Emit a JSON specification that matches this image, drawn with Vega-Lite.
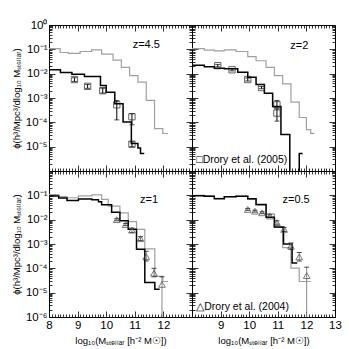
{
"$schema":"https://vega.github.io/schema/vega-lite/v6.json",
"padding":{"left":11,"top":19,"right":5,"bottom":3},
"datasets":{
"lines":[
{"p":"TL","s":"g","m":8.0,"phi":0.107},{"p":"TL","s":"g","m":8.39,"phi":0.0741},{"p":"TL","s":"g","m":8.68,"phi":0.0676},{"p":"TL","s":"g","m":9.09,"phi":0.0813},{"p":"TL","s":"g","m":9.49,"phi":0.0955},{"p":"TL","s":"g","m":9.84,"phi":0.0631},{"p":"TL","s":"g","m":10.24,"phi":0.0363},{"p":"TL","s":"g","m":10.53,"phi":0.0182},{"p":"TL","s":"g","m":10.82,"phi":0.00832},{"p":"TL","s":"g","m":11.11,"phi":0.00447},{"p":"TL","s":"g","m":11.4,"phi":0.000794},{"p":"TL","s":"g","m":11.69,"phi":0.000055},{"p":"TL","s":"g","m":11.98,"phi":0.0000347},{"p":"TL","s":"g","m":12.16,"phi":0.0000347},
{"p":"TL","s":"k","m":8.0,"phi":0.0145},{"p":"TL","s":"k","m":8.4,"phi":0.0112},{"p":"TL","s":"k","m":8.8,"phi":0.00955},{"p":"TL","s":"k","m":9.24,"phi":0.00759},{"p":"TL","s":"k","m":9.8,"phi":0.00324},{"p":"TL","s":"k","m":10.0,"phi":0.00174},{"p":"TL","s":"k","m":10.3,"phi":0.000575},{"p":"TL","s":"k","m":10.59,"phi":0.000102},{"p":"TL","s":"k","m":10.88,"phi":0.0000135},{"p":"TL","s":"k","m":11.11,"phi":0.00000891},{"p":"TL","s":"k","m":11.2,"phi":0.00000525},{"p":"TL","s":"k","m":11.33,"phi":0.00000525},
{"p":"TR","s":"g","m":8.0,"phi":0.107},{"p":"TR","s":"g","m":8.43,"phi":0.0933},{"p":"TR","s":"g","m":8.78,"phi":0.0871},{"p":"TR","s":"g","m":9.13,"phi":0.0955},{"p":"TR","s":"g","m":9.54,"phi":0.0813},{"p":"TR","s":"g","m":9.95,"phi":0.0501},{"p":"TR","s":"g","m":10.24,"phi":0.0339},{"p":"TR","s":"g","m":10.59,"phi":0.0182},{"p":"TR","s":"g","m":10.88,"phi":0.00832},{"p":"TR","s":"g","m":11.17,"phi":0.0038},{"p":"TR","s":"g","m":11.46,"phi":0.000676},{"p":"TR","s":"g","m":11.75,"phi":0.000158},{"p":"TR","s":"g","m":12.0,"phi":0.0000501},{"p":"TR","s":"g","m":12.15,"phi":0.0000355},{"p":"TR","s":"g","m":12.28,"phi":0.0000355},
{"p":"TR","s":"k","m":8.0,"phi":0.0224},{"p":"TR","s":"k","m":8.43,"phi":0.0191},{"p":"TR","s":"k","m":8.78,"phi":0.0166},{"p":"TR","s":"k","m":9.13,"phi":0.0158},{"p":"TR","s":"k","m":9.6,"phi":0.0115},{"p":"TR","s":"k","m":9.95,"phi":0.00708},{"p":"TR","s":"k","m":10.24,"phi":0.00355},{"p":"TR","s":"k","m":10.53,"phi":0.00158},{"p":"TR","s":"k","m":10.82,"phi":0.000447},{"p":"TR","s":"k","m":11.11,"phi":0.0000316},{"p":"TR","s":"k","m":11.42,"phi":1e-9},{"p":"TR","s":"k","m":11.75,"phi":0.00000525},{"p":"TR","s":"k","m":11.87,"phi":0.00000525},
{"p":"BL","s":"g","m":8.0,"phi":0.107},{"p":"BL","s":"g","m":8.34,"phi":0.0891},{"p":"BL","s":"g","m":8.63,"phi":0.0794},{"p":"BL","s":"g","m":9.03,"phi":0.0955},{"p":"BL","s":"g","m":9.5,"phi":0.105},{"p":"BL","s":"g","m":9.84,"phi":0.0676},{"p":"BL","s":"g","m":10.07,"phi":0.0363},{"p":"BL","s":"g","m":10.48,"phi":0.0191},{"p":"BL","s":"g","m":10.77,"phi":0.00832},{"p":"BL","s":"g","m":11.06,"phi":0.00398},{"p":"BL","s":"g","m":11.35,"phi":0.000631},{"p":"BL","s":"g","m":11.7,"phi":0.0000468},{"p":"BL","s":"g","m":11.98,"phi":0.0000288},{"p":"BL","s":"g","m":12.16,"phi":0.0000288},
{"p":"BL","s":"k","m":8.0,"phi":0.0933},{"p":"BL","s":"k","m":8.34,"phi":0.0776},{"p":"BL","s":"k","m":8.63,"phi":0.0617},{"p":"BL","s":"k","m":9.03,"phi":0.0708},{"p":"BL","s":"k","m":9.5,"phi":0.0661},{"p":"BL","s":"k","m":9.73,"phi":0.055},{"p":"BL","s":"k","m":9.84,"phi":0.0407},{"p":"BL","s":"k","m":10.19,"phi":0.0204},{"p":"BL","s":"k","m":10.48,"phi":0.00912},{"p":"BL","s":"k","m":10.77,"phi":0.00407},{"p":"BL","s":"k","m":11.06,"phi":0.000603},{"p":"BL","s":"k","m":11.35,"phi":0.0000263},{"p":"BL","s":"k","m":11.7,"phi":0.0000138},{"p":"BL","s":"k","m":11.87,"phi":0.0000138},
{"p":"BR","s":"g","m":8.0,"phi":0.1},{"p":"BR","s":"g","m":8.43,"phi":0.0955},{"p":"BR","s":"g","m":8.78,"phi":0.0759},{"p":"BR","s":"g","m":9.13,"phi":0.0891},{"p":"BR","s":"g","m":9.54,"phi":0.0933},{"p":"BR","s":"g","m":9.95,"phi":0.0676},{"p":"BR","s":"g","m":10.24,"phi":0.0398},{"p":"BR","s":"g","m":10.59,"phi":0.0174},{"p":"BR","s":"g","m":10.88,"phi":0.00479},{"p":"BR","s":"g","m":11.17,"phi":0.000708},{"p":"BR","s":"g","m":11.46,"phi":0.000102},{"p":"BR","s":"g","m":11.75,"phi":0.0000288},{"p":"BR","s":"g","m":12.15,"phi":0.0000288},
{"p":"BR","s":"k","m":8.0,"phi":0.0955},{"p":"BR","s":"k","m":8.43,"phi":0.0912},{"p":"BR","s":"k","m":8.78,"phi":0.0724},{"p":"BR","s":"k","m":9.13,"phi":0.0871},{"p":"BR","s":"k","m":9.54,"phi":0.0912},{"p":"BR","s":"k","m":9.95,"phi":0.0724},{"p":"BR","s":"k","m":10.24,"phi":0.0417},{"p":"BR","s":"k","m":10.59,"phi":0.0126},{"p":"BR","s":"k","m":10.88,"phi":0.00501},{"p":"BR","s":"k","m":11.2,"phi":0.001},{"p":"BR","s":"k","m":11.5,"phi":0.000166},{"p":"BR","s":"k","m":11.68,"phi":0.000166}
],
"pts":[
{"p":"TL","m":8.89,"phi":0.00575,"lo":0.0048,"hi":0.0068},{"p":"TL","m":9.35,"phi":0.00302,"lo":0.0025,"hi":0.0036},{"p":"TL","m":9.88,"phi":0.002,"lo":0.0016,"hi":0.0025},{"p":"TL","m":10.37,"phi":0.000525,"lo":0.000126,"hi":0.000794},{"p":"TL","m":10.9,"phi":0.00017,"lo":0.0000794,"hi":0.000224},{"p":"TL","m":10.9,"phi":0.0000126,"lo":0.00001,"hi":0.0000158},
{"p":"TR","m":8.9,"phi":0.0214,"lo":0.0191,"hi":0.024},{"p":"TR","m":9.4,"phi":0.01445,"lo":0.013,"hi":0.016},{"p":"TR","m":9.95,"phi":0.00575,"lo":0.005,"hi":0.0066},{"p":"TR","m":10.43,"phi":0.00269,"lo":0.0024,"hi":0.003},{"p":"TR","m":10.97,"phi":0.000525,"lo":0.000398,"hi":0.000794},{"p":"TR","m":10.97,"phi":0.00024,"lo":0.000112,"hi":0.000355},
{"p":"BL","m":10.37,"phi":0.01,"lo":0.009,"hi":0.011},{"p":"BL","m":10.68,"phi":0.00631,"lo":0.0057,"hi":0.007},{"p":"BL","m":10.9,"phi":0.00372,"lo":0.003,"hi":0.0045},{"p":"BL","m":11.2,"phi":0.00166,"lo":0.0014,"hi":0.002},{"p":"BL","m":11.4,"phi":0.000302,"lo":0.0002,"hi":0.000501},{"p":"BL","m":11.67,"phi":0.0000631,"lo":0.0000447,"hi":0.0001},{"p":"BL","m":11.95,"phi":0.0000219,"lo":1e-9,"hi":0.0000447},
{"p":"BR","m":9.95,"phi":0.0263,"lo":0.024,"hi":0.029},{"p":"BR","m":10.2,"phi":0.0224,"lo":0.0205,"hi":0.0245},{"p":"BR","m":10.45,"phi":0.0191,"lo":0.0175,"hi":0.021},{"p":"BR","m":10.72,"phi":0.0141,"lo":0.0125,"hi":0.016},{"p":"BR","m":10.97,"phi":0.00759,"lo":0.0065,"hi":0.009},{"p":"BR","m":11.22,"phi":0.00398,"lo":0.0033,"hi":0.0048},{"p":"BR","m":11.46,"phi":0.000832,"lo":0.0006,"hi":0.0011},{"p":"BR","m":11.75,"phi":0.000295,"lo":0.0002,"hi":0.000447},{"p":"BR","m":12.01,"phi":0.0000501,"lo":1e-9,"hi":0.000112}
]
},
"columns":2,
"spacing":0,
"bounds":"flush",
"concat":[
{"width":143,"height":146,
 "layer":[
  {"data":{"name":"lines"},"transform":[{"filter":"datum.p=='TL' && datum.s=='g'"}],
   "mark":{"type":"line","interpolate":"step-after","color":"#a0a0a0","strokeWidth":1.2,"clip":true},
   "encoding":{"x":{"field":"m","type":"quantitative","scale":{"domain":[8,13],"nice":false,"zero":false},"axis":{"orient":"bottom","tickCount":50,"labels":false,"title":null,"tickSize":{"condition":{"test":"abs(datum.value-round(datum.value))<0.001","value":-6},"value":-3}}},
     "y":{"field":"phi","type":"quantitative","scale":{"type":"log","domain":[1e-6,1],"nice":false},"axis":{"orient":"left","tickCount":60,"title":"ϕ(h³/Mpc³/dlog₁₀ Mₛₜₑₗₗₐᵣ)","labelExpr":"abs(log(datum.value)/LN10-round(log(datum.value)/LN10))<0.001 && round(log(datum.value)/LN10)>-5.5 ? '10'+['⁰','⁻¹','⁻²','⁻³','⁻⁴','⁻⁵','⁻⁶'][-round(log(datum.value)/LN10)] : ''","tickSize":{"condition":{"test":"abs(log(datum.value)/LN10-round(log(datum.value)/LN10))<0.001","value":-6},"value":-3}}}}},
  {"data":{"name":"lines"},"transform":[{"filter":"datum.p=='TL' && datum.s=='k'"}],
   "mark":{"type":"line","interpolate":"step-after","color":"#000000","strokeWidth":1.5,"clip":true},
   "encoding":{"x":{"field":"m","type":"quantitative","axis":{"orient":"top","tickCount":50,"labels":false,"title":null,"tickSize":{"condition":{"test":"abs(datum.value-round(datum.value))<0.001","value":-6},"value":-3}}},
     "y":{"field":"phi","type":"quantitative","axis":{"orient":"right","tickCount":60,"labels":false,"title":null,"tickSize":{"condition":{"test":"abs(log(datum.value)/LN10-round(log(datum.value)/LN10))<0.001","value":-6},"value":-3}}}}},
  {"data":{"name":"pts"},"transform":[{"filter":"datum.p=='TL'"}],"mark":{"type":"rule","color":"#000","strokeWidth":1,"clip":true},
   "encoding":{"x":{"field":"m","type":"quantitative","axis":null},"y":{"field":"lo","type":"quantitative","axis":null},"y2":{"field":"hi"}}},
  {"data":{"name":"pts"},"transform":[{"filter":"datum.p=='TL'"}],"mark":{"type":"tick","orient":"horizontal","size":5,"thickness":1,"color":"#000","clip":true},
   "encoding":{"x":{"field":"m","type":"quantitative","axis":null},"y":{"field":"hi","type":"quantitative","axis":null}}},
  {"data":{"name":"pts"},"transform":[{"filter":"datum.p=='TL'"}],"mark":{"type":"tick","orient":"horizontal","size":5,"thickness":1,"color":"#000","clip":true},
   "encoding":{"x":{"field":"m","type":"quantitative","axis":null},"y":{"field":"lo","type":"quantitative","axis":null}}},
  {"data":{"name":"pts"},"transform":[{"filter":"datum.p=='TL'"}],"mark":{"type":"point","shape":"square","filled":false,"size":40,"color":"#222","strokeWidth":1},
   "encoding":{"x":{"field":"m","type":"quantitative","axis":null},"y":{"field":"phi","type":"quantitative","axis":null}}},
  {"data":{"values":[{}]},"mark":{"type":"text","text":"z=4.5","fontSize":11,"align":"center","baseline":"middle"},
   "encoding":{"x":{"datum":11.4,"type":"quantitative","axis":null},"y":{"datum":0.15,"type":"quantitative","axis":null}}}
 ],
 "resolve":{"axis":{"x":"independent","y":"independent"}}},
{"width":143,"height":146,
 "layer":[
  {"data":{"name":"lines"},"transform":[{"filter":"datum.p=='TR' && datum.s=='g'"}],
   "mark":{"type":"line","interpolate":"step-after","color":"#a0a0a0","strokeWidth":1.2,"clip":true},
   "encoding":{"x":{"field":"m","type":"quantitative","scale":{"domain":[8,13],"nice":false,"zero":false},"axis":{"orient":"bottom","tickCount":50,"labels":false,"title":null,"tickSize":{"condition":{"test":"abs(datum.value-round(datum.value))<0.001","value":-6},"value":-3}}},
     "y":{"field":"phi","type":"quantitative","scale":{"type":"log","domain":[1e-6,1],"nice":false},"axis":{"orient":"left","tickCount":60,"labels":false,"title":null,"tickSize":{"condition":{"test":"abs(log(datum.value)/LN10-round(log(datum.value)/LN10))<0.001","value":-6},"value":-3}}}}},
  {"data":{"name":"lines"},"transform":[{"filter":"datum.p=='TR' && datum.s=='k'"}],
   "mark":{"type":"line","interpolate":"step-after","color":"#000000","strokeWidth":1.5,"clip":true},
   "encoding":{"x":{"field":"m","type":"quantitative","axis":{"orient":"top","tickCount":50,"labels":false,"title":null,"tickSize":{"condition":{"test":"abs(datum.value-round(datum.value))<0.001","value":-6},"value":-3}}},
     "y":{"field":"phi","type":"quantitative","axis":{"orient":"right","tickCount":60,"labels":false,"title":null,"tickSize":{"condition":{"test":"abs(log(datum.value)/LN10-round(log(datum.value)/LN10))<0.001","value":-6},"value":-3}}}}},
  {"data":{"name":"pts"},"transform":[{"filter":"datum.p=='TR'"}],"mark":{"type":"rule","color":"#000","strokeWidth":1,"clip":true},
   "encoding":{"x":{"field":"m","type":"quantitative","axis":null},"y":{"field":"lo","type":"quantitative","axis":null},"y2":{"field":"hi"}}},
  {"data":{"name":"pts"},"transform":[{"filter":"datum.p=='TR'"}],"mark":{"type":"tick","orient":"horizontal","size":5,"thickness":1,"color":"#000","clip":true},
   "encoding":{"x":{"field":"m","type":"quantitative","axis":null},"y":{"field":"hi","type":"quantitative","axis":null}}},
  {"data":{"name":"pts"},"transform":[{"filter":"datum.p=='TR'"}],"mark":{"type":"tick","orient":"horizontal","size":5,"thickness":1,"color":"#000","clip":true},
   "encoding":{"x":{"field":"m","type":"quantitative","axis":null},"y":{"field":"lo","type":"quantitative","axis":null}}},
  {"data":{"name":"pts"},"transform":[{"filter":"datum.p=='TR'"}],"mark":{"type":"point","shape":"square","filled":false,"size":40,"color":"#222","strokeWidth":1},
   "encoding":{"x":{"field":"m","type":"quantitative","axis":null},"y":{"field":"phi","type":"quantitative","axis":null}}},
  {"data":{"values":[{}]},"mark":{"type":"text","text":"z=2","fontSize":11,"align":"center","baseline":"middle"},
   "encoding":{"x":{"datum":11.75,"type":"quantitative","axis":null},"y":{"datum":0.14,"type":"quantitative","axis":null}}},
  {"data":{"values":[{}]},"mark":{"type":"text","text":"□Drory et al. (2005)","fontSize":10.5,"align":"left","baseline":"middle"},
   "encoding":{"x":{"datum":8.15,"type":"quantitative","axis":null},"y":{"datum":0.0000028,"type":"quantitative","axis":null}}}
 ],
 "resolve":{"axis":{"x":"independent","y":"independent"}}},
{"width":143,"height":146,
 "layer":[
  {"data":{"name":"lines"},"transform":[{"filter":"datum.p=='BL' && datum.s=='g'"}],
   "mark":{"type":"line","interpolate":"step-after","color":"#a0a0a0","strokeWidth":1.2,"clip":true},
   "encoding":{"x":{"field":"m","type":"quantitative","scale":{"domain":[8,13],"nice":false,"zero":false},"axis":{"orient":"bottom","tickCount":50,"title":"log₁₀(Mₛₜₑₗₗₐᵣ [h⁻² M☉])","titlePadding":2,"labelExpr":"abs(datum.value-round(datum.value))<0.001 && datum.value<12.5 ? format(datum.value,'d') : ''","tickSize":{"condition":{"test":"abs(datum.value-round(datum.value))<0.001","value":-6},"value":-3}}},
     "y":{"field":"phi","type":"quantitative","scale":{"type":"log","domain":[1e-6,1],"nice":false},"axis":{"orient":"left","tickCount":60,"title":"ϕ(h³/Mpc³/dlog₁₀ Mₛₜₑₗₗₐᵣ)","labelExpr":"abs(log(datum.value)/LN10-round(log(datum.value)/LN10))<0.001 && round(log(datum.value)/LN10)<-0.5 ? '10'+['⁰','⁻¹','⁻²','⁻³','⁻⁴','⁻⁵','⁻⁶'][-round(log(datum.value)/LN10)] : ''","tickSize":{"condition":{"test":"abs(log(datum.value)/LN10-round(log(datum.value)/LN10))<0.001","value":-6},"value":-3}}}}},
  {"data":{"name":"lines"},"transform":[{"filter":"datum.p=='BL' && datum.s=='k'"}],
   "mark":{"type":"line","interpolate":"step-after","color":"#000000","strokeWidth":1.5,"clip":true},
   "encoding":{"x":{"field":"m","type":"quantitative","axis":{"orient":"top","tickCount":50,"labels":false,"title":null,"tickSize":{"condition":{"test":"abs(datum.value-round(datum.value))<0.001","value":-6},"value":-3}}},
     "y":{"field":"phi","type":"quantitative","axis":{"orient":"right","tickCount":60,"labels":false,"title":null,"tickSize":{"condition":{"test":"abs(log(datum.value)/LN10-round(log(datum.value)/LN10))<0.001","value":-6},"value":-3}}}}},
  {"data":{"name":"pts"},"transform":[{"filter":"datum.p=='BL'"}],"mark":{"type":"rule","color":"#888","strokeWidth":1,"clip":true},
   "encoding":{"x":{"field":"m","type":"quantitative","axis":null},"y":{"field":"lo","type":"quantitative","axis":null},"y2":{"field":"hi"}}},
  {"data":{"name":"pts"},"transform":[{"filter":"datum.p=='BL'"}],"mark":{"type":"tick","orient":"horizontal","size":5,"thickness":1,"color":"#000","clip":true},
   "encoding":{"x":{"field":"m","type":"quantitative","axis":null},"y":{"field":"hi","type":"quantitative","axis":null}}},
  {"data":{"name":"pts"},"transform":[{"filter":"datum.p=='BL'"}],"mark":{"type":"tick","orient":"horizontal","size":5,"thickness":1,"color":"#000","clip":true},
   "encoding":{"x":{"field":"m","type":"quantitative","axis":null},"y":{"field":"lo","type":"quantitative","axis":null}}},
  {"data":{"name":"pts"},"transform":[{"filter":"datum.p=='BL'"}],"mark":{"type":"point","shape":"triangle-up","filled":false,"size":45,"color":"#444","strokeWidth":1},
   "encoding":{"x":{"field":"m","type":"quantitative","axis":null},"y":{"field":"phi","type":"quantitative","axis":null}}},
  {"data":{"values":[{}]},"mark":{"type":"text","text":"z=1","fontSize":11,"align":"center","baseline":"middle"},
   "encoding":{"x":{"datum":11.5,"type":"quantitative","axis":null},"y":{"datum":0.062,"type":"quantitative","axis":null}}}
 ],
 "resolve":{"axis":{"x":"independent","y":"independent"}}},
{"width":143,"height":146,
 "layer":[
  {"data":{"name":"lines"},"transform":[{"filter":"datum.p=='BR' && datum.s=='g'"}],
   "mark":{"type":"line","interpolate":"step-after","color":"#a0a0a0","strokeWidth":1.2,"clip":true},
   "encoding":{"x":{"field":"m","type":"quantitative","scale":{"domain":[8,13],"nice":false,"zero":false},"axis":{"orient":"bottom","tickCount":50,"title":"log₁₀(Mₛₜₑₗₗₐᵣ [h⁻² M☉])","titlePadding":2,"labelExpr":"abs(datum.value-round(datum.value))<0.001 && datum.value>8.5 ? format(datum.value,'d') : ''","tickSize":{"condition":{"test":"abs(datum.value-round(datum.value))<0.001","value":-6},"value":-3}}},
     "y":{"field":"phi","type":"quantitative","scale":{"type":"log","domain":[1e-6,1],"nice":false},"axis":{"orient":"left","tickCount":60,"labels":false,"title":null,"tickSize":{"condition":{"test":"abs(log(datum.value)/LN10-round(log(datum.value)/LN10))<0.001","value":-6},"value":-3}}}}},
  {"data":{"name":"lines"},"transform":[{"filter":"datum.p=='BR' && datum.s=='k'"}],
   "mark":{"type":"line","interpolate":"step-after","color":"#000000","strokeWidth":1.5,"clip":true},
   "encoding":{"x":{"field":"m","type":"quantitative","axis":{"orient":"top","tickCount":50,"labels":false,"title":null,"tickSize":{"condition":{"test":"abs(datum.value-round(datum.value))<0.001","value":-6},"value":-3}}},
     "y":{"field":"phi","type":"quantitative","axis":{"orient":"right","tickCount":60,"labels":false,"title":null,"tickSize":{"condition":{"test":"abs(log(datum.value)/LN10-round(log(datum.value)/LN10))<0.001","value":-6},"value":-3}}}}},
  {"data":{"name":"pts"},"transform":[{"filter":"datum.p=='BR'"}],"mark":{"type":"rule","color":"#888","strokeWidth":1,"clip":true},
   "encoding":{"x":{"field":"m","type":"quantitative","axis":null},"y":{"field":"lo","type":"quantitative","axis":null},"y2":{"field":"hi"}}},
  {"data":{"name":"pts"},"transform":[{"filter":"datum.p=='BR'"}],"mark":{"type":"tick","orient":"horizontal","size":5,"thickness":1,"color":"#000","clip":true},
   "encoding":{"x":{"field":"m","type":"quantitative","axis":null},"y":{"field":"hi","type":"quantitative","axis":null}}},
  {"data":{"name":"pts"},"transform":[{"filter":"datum.p=='BR'"}],"mark":{"type":"tick","orient":"horizontal","size":5,"thickness":1,"color":"#000","clip":true},
   "encoding":{"x":{"field":"m","type":"quantitative","axis":null},"y":{"field":"lo","type":"quantitative","axis":null}}},
  {"data":{"name":"pts"},"transform":[{"filter":"datum.p=='BR'"}],"mark":{"type":"point","shape":"triangle-up","filled":false,"size":45,"color":"#444","strokeWidth":1},
   "encoding":{"x":{"field":"m","type":"quantitative","axis":null},"y":{"field":"phi","type":"quantitative","axis":null}}},
  {"data":{"values":[{}]},"mark":{"type":"text","text":"z=0.5","fontSize":11,"align":"center","baseline":"middle"},
   "encoding":{"x":{"datum":11.64,"type":"quantitative","axis":null},"y":{"datum":0.062,"type":"quantitative","axis":null}}},
  {"data":{"values":[{}]},"mark":{"type":"text","text":"△Drory et al. (2004)","fontSize":10.5,"align":"left","baseline":"middle"},
   "encoding":{"x":{"datum":8.15,"type":"quantitative","axis":null},"y":{"datum":0.0000026,"type":"quantitative","axis":null}}}
 ],
 "resolve":{"axis":{"x":"independent","y":"independent"}}}
],
"config":{
 "font":"Liberation Sans",
 "view":{"stroke":null},
 "axis":{"domainColor":"#000","domainWidth":1,"tickColor":"#000","tickWidth":0.8,"labelColor":"#000","titleColor":"#000","labelFontSize":11.5,"titleFontSize":9.5,"titleFontWeight":"normal","grid":false,"labelFont":"Liberation Sans","titleFont":"Liberation Sans","labelOverlap":false,"labelBound":false,"labelFlush":false,"labelPadding":8}
}
}
